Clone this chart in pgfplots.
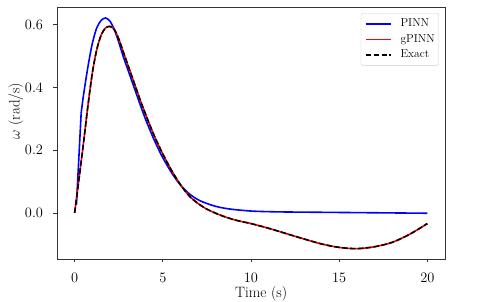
\documentclass[border=0pt]{standalone}
\usepackage{pgfplots}
\pgfplotsset{compat=1.18}
\pgfplotstableread{
t w
0 0
0.25 0.11
0.5 0.222
0.75 0.34
1.0 0.445
1.25 0.52
1.5 0.567
1.75 0.59
2.0 0.595
2.25 0.585
2.5 0.555
2.75 0.515
3.0 0.475
3.25 0.435
3.5 0.395
3.75 0.355
4.0 0.318
4.25 0.282
4.5 0.248
4.75 0.217
5.0 0.188
5.5 0.135
6.0 0.09
6.5 0.054
7.0 0.03
7.5 0.012
8.0 -0.001
8.5 -0.012
9.0 -0.021
9.5 -0.028
10 -0.034
11 -0.049
12 -0.066
13 -0.083
14 -0.099
15 -0.110
16 -0.114
17 -0.108
18 -0.094
19 -0.068
20 -0.034
}\exact
\pgfplotstableread{
t w
0.37 0.318
0.5 0.375
0.75 0.465
1.0 0.54
1.25 0.59
1.5 0.614
1.75 0.622
2.0 0.612
2.25 0.585
2.5 0.545
2.75 0.5
3.0 0.46
3.25 0.42
3.5 0.38
3.75 0.34
4.0 0.302
4.25 0.267
4.5 0.234
4.75 0.204
5.0 0.176
5.5 0.128
6.0 0.089
6.5 0.061
7.0 0.042
7.5 0.03
8.0 0.021
8.5 0.015
9.0 0.011
10 0.006
11 0.004
12 0.003
14 0.002
16 0.001
18 0.0
20 -0.001
}\pinn
\begin{document}
\begin{tikzpicture}
\begin{axis}[name=ax, at={(0,0)}, anchor=south west,
 scale only axis, width=388pt, height=252pt,
 xmin=-1, xmax=21, ymin=-0.147, ymax=0.657,
 xtick={0,5,10,15,20}, ytick={0,0.2,0.4,0.6},
 yticklabel style={/pgf/number format/fixed, /pgf/number format/fixed zerofill, /pgf/number format/precision=1},
 tick align=outside, major tick length=3.5pt, xtick pos=bottom, ytick pos=left,
 tick style={black!80, line width=0.8pt},
 axis line style={black!80, line width=0.8pt},
 ticklabel style={font=\fontsize{15}{18}\selectfont, inner sep=0pt},
 xticklabel style={anchor=north, yshift=-11pt},
 yticklabel style={anchor=east, xshift=-10.3pt},
 xlabel={Time (s)},
 label style={font=\fontsize{15}{18}\selectfont},
 xlabel style={at={(axis description cs:0.526,-0.1508)}, anchor=base},
 legend cell align=left,
 legend image code/.code={\draw[#1] (0pt,0pt) -- (25pt,0pt);},
 legend style={at={(axis description cs:0.9845,0.975)}, anchor=north east,
   draw=black!20, rounded corners=2pt, fill=white,
   font=\fontsize{11.5}{13}\selectfont, inner xsep=4pt, inner ysep=5pt,
   row sep=5.2pt, column sep=9pt,
   nodes={inner sep=0pt, text height=8pt, text depth=2.5pt}},
]
\addplot[blue, line width=1.6pt, forget plot] coordinates {(0.1,0.025) (0.37,0.318)};
\addplot[blue, line width=1.6pt, smooth, tension=0.5, forget plot] table[x=t,y=w] {\pinn};
\addplot[red, line width=1.6pt, smooth, tension=0.5, forget plot] table[x=t,y=w] {\exact};
\addplot[black, line width=1.6pt, dash pattern=on 5.5pt off 2.4pt, smooth, tension=0.5, forget plot] table[x=t,y=w] {\exact};
\addlegendimage{draw=blue, line width=1.6pt}
\addlegendentry{PINN}
\addlegendimage{legend image code/.code={\fill[red, draw=none, rounded corners=0pt] (0pt,-0.8pt) rectangle (25pt,0.8pt);}}
\addlegendentry{gPINN}
\addlegendimage{draw=black, line width=1.6pt, dash pattern=on 5.5pt off 2.4pt}
\addlegendentry{Exact}
\end{axis}
\path (ax.south west) ++(-41pt,148pt) node[rotate=90, anchor=center, inner sep=0pt, font=\fontsize{15}{18}\selectfont] {$\omega$ (rad/s)};
\pgfresetboundingbox
\path[use as bounding box] (ax.south west) ++(-57pt,-43pt) rectangle ++(479pt,302pt);
\end{tikzpicture}
\end{document}
